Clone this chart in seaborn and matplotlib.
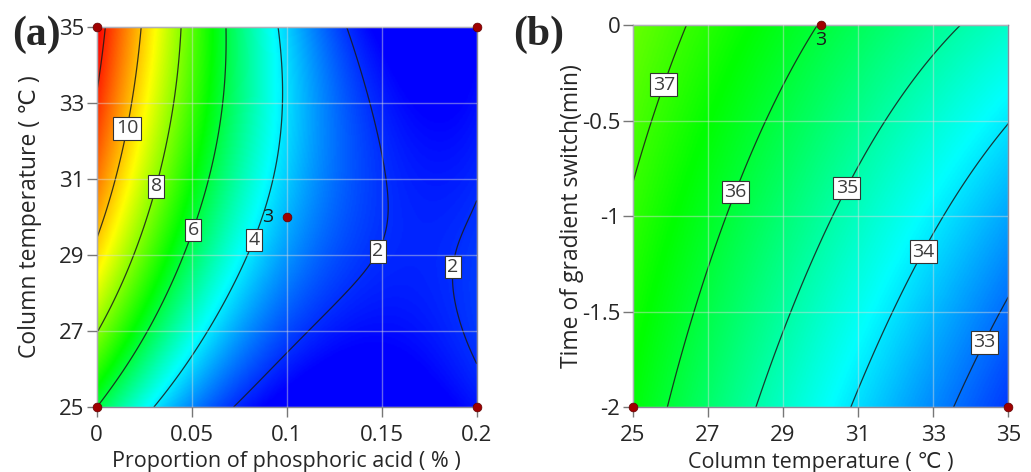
import numpy as np
import matplotlib
matplotlib.use("Agg")
import matplotlib.pyplot as plt
import seaborn as sns
from matplotlib.colors import LinearSegmentedColormap

# ---- readings taken off the response-surface plots -------------------------
# panel (a): phosphoric acid (%) vs column temperature, response value
a_acid = [0.0053, 0.0, 0.0025,
          0.0237, 0.021, 0.0158, 0.007, 0.0,
          0.0439, 0.0412, 0.0307, 0.0175, 0.0,
          0.0675, 0.0667, 0.05, 0.0404, 0.0193, 0.0,
          0.0956, 0.0979, 0.0947, 0.0819, 0.0719, 0.049, 0.0307,
          0.1325, 0.142, 0.1544, 0.1588, 0.15, 0.135, 0.1175, 0.0912, 0.0719,
          0.2, 0.1895, 0.1842, 0.1854, 0.1895, 0.2,
          0.0, 0.1, 0.17, 0.13, 0.172, 0.2, 0.2, 0.2, 0.2, 0.2, 0.19]
a_temp = [35, 33.07, 34.0,
          35, 33.86, 32.33, 30.79, 29.39,
          35, 33.0, 30.81, 28.6, 26.94,
          35, 33.0, 29.67, 28.16, 26.4, 25.0,
          35, 33.0, 31.06, 29.41, 28.16, 26.4, 25.0,
          35, 33.0, 31.06, 30.1, 29.04, 28.16, 27.1, 25.97, 25.0,
          30.62, 30.09, 29.2, 28.69, 27.7, 25.84,
          35, 30, 34.5, 25.4, 29.0, 35, 25, 28.5, 33.5, 32.0, 32.0]
a_resp = [12, 12, 12,
          10, 10, 10, 10, 10,
          8, 8, 8, 8, 8,
          6, 6, 6, 6, 6, 6,
          4, 4, 4, 4, 4, 4, 4,
          2, 2, 2, 2, 2, 2, 2, 2, 2,
          2, 2, 2, 2, 2, 2,
          12.4, 3.3, 1.1, 1.1, 1.7, 1.5, 1.7, 2.1, 1.6, 1.75, 1.7]

# panel (b): column temperature vs time of gradient switch, response value
b_temp = [26.5, 25.71, 25.0,
          29.85, 27.8, 26.79, 25.99,
          33.76, 32.38, 30.77, 29.45, 28.39,
          35.0, 32.74, 31.67, 30.86,
          35.0, 34.14, 33.36,
          25.0, 35.0, 25.0, 35.0]
b_time = [0.0, -0.305, -0.78,
          0.0, -0.9, -1.49, -2.0,
          0.0, -0.305, -0.86, -1.35, -2.0,
          -0.575, -1.187, -1.53, -2.0,
          -1.42, -1.64, -2.0,
          0.0, 0.0, -2.0, -2.0]
b_resp = [37, 37, 37,
          36, 36, 36, 36,
          35, 35, 35, 35, 35,
          34, 34, 34, 34,
          33, 33, 33,
          37.45, 34.65, 36.35, 32.6]

# design points
a_design_acid = [0, 0.2, 0, 0.2, 0.1]
a_design_temp = [35, 35, 25, 25, 30]
b_design_temp = [25, 35, 30]
b_design_time = [-2, -2, 0]

a_levels = [2, 4, 6, 8, 10, 12]
a_labelled = [2, 4, 6, 8, 10]
b_levels = [33, 34, 35, 36, 37]

a_label_pos = [(0.0158, 32.33), (0.0307, 30.81), (0.05, 29.67),
               (0.0819, 29.41), (0.15, 29.04), (0.1854, 28.69)]
b_label_pos = [(25.71, -0.305), (27.75, -0.876), (30.77, -0.86),
               (32.74, -1.187), (34.14, -1.64)]


def fit_surface(xs, ys, zs, xlim, ylim, deg_x, deg_y, n=300):
    # polynomial response surface fitted to the readings (coded units)
    xs, ys, zs = map(np.asarray, (xs, ys, zs))
    cx, hx = (xlim[0] + xlim[1]) / 2, (xlim[1] - xlim[0]) / 2
    cy, hy = (ylim[0] + ylim[1]) / 2, (ylim[1] - ylim[0]) / 2
    terms = [(i, j) for i in range(deg_x + 1) for j in range(deg_y + 1)]
    u, v = (xs - cx) / hx, (ys - cy) / hy
    A = np.column_stack([u**i * v**j for i, j in terms])
    coef = np.linalg.lstsq(A, zs, rcond=None)[0]
    gx = np.linspace(xlim[0], xlim[1], n)
    gy = np.linspace(ylim[0], ylim[1], n)
    X, Y = np.meshgrid(gx, gy)
    U, V = (X - cx) / hx, (Y - cy) / hy
    Z = sum(c * U**i * V**j for c, (i, j) in zip(coef, terms))
    return X, Y, Z


def make_cmap(stops):
    colors = ["#0000ff", "#00ffff", "#00ff00", "#ffff00", "#ff0000"]
    lo, hi = stops[0], stops[-1]
    return LinearSegmentedColormap.from_list(
        "de", [((s - lo) / (hi - lo), c) for s, c in zip(stops, colors)]), lo, hi


sns.set_theme(style="white")
plt.rcParams["font.family"] = ["Open Sans", "DejaVu Sans"]

fig = plt.figure(figsize=(10.31, 4.72), dpi=100)
ax1 = fig.add_axes([0.0938, 0.1377, 0.3686, 0.8057])
ax2 = fig.add_axes([0.6137, 0.1377, 0.3643, 0.8093])

panels = [
    (ax1, a_acid, a_temp, a_resp, (0, 0.2), (25, 35), 4, 3,
     [1.5, 4.2, 6.6, 9.3, 12.5], a_levels, a_labelled, a_label_pos,
     a_design_acid, a_design_temp),
    (ax2, b_temp, b_time, b_resp, (25, 35), (-2, 0), 2, 2,
     [32.0, 34.2, 36.5, 38.8, 41.0], b_levels, b_levels, b_label_pos,
     b_design_temp, b_design_time),
]

for (ax, xs, ys, zs, xlim, ylim, dx, dy, stops, levels, labelled, lpos,
     dsx, dsy) in panels:
    X, Y, Z = fit_surface(xs, ys, zs, xlim, ylim, dx, dy)
    cmap, lo, hi = make_cmap(stops)
    ax.imshow(Z, extent=[xlim[0], xlim[1], ylim[0], ylim[1]], origin="lower",
              aspect="auto", cmap=cmap, vmin=lo, vmax=hi, interpolation="bilinear")
    cs = ax.contour(X, Y, Z, levels=levels, colors="#1a1a1a", linewidths=0.9,
                    alpha=0.85)
    texts = ax.clabel(cs, levels=labelled, inline=False, fmt="%d",
                      fontsize=14, manual=lpos, colors="#1a1a1a")
    for t in texts:
        t.set_rotation(0)
        t.set_bbox(dict(boxstyle="square,pad=0.12", fc="white", ec="#333333",
                        lw=0.8))
    sns.scatterplot(x=dsx, y=dsy, ax=ax, color="#a00000", s=40,
                    edgecolor="#600000", linewidth=0.5, zorder=5, clip_on=False)
    ax.set_xlim(*xlim)
    ax.set_ylim(*ylim)
    ax.grid(True, color="#dddddd", alpha=0.45, lw=1.0)
    ax.set_axisbelow(False)
    for s in ax.spines.values():
        s.set_color("#8a8a9a")
        s.set_linewidth(1.0)
    ax.tick_params(axis="both", which="both", direction="out", length=7,
                   width=1, color="#777777", labelsize=16,
                   bottom=True, left=True)
    ax.tick_params(axis="x", pad=6)
    ax.tick_params(axis="y", pad=2)

ax1.set_xticks([0, 0.05, 0.1, 0.15, 0.2])
ax1.set_xticklabels(["0", "0.05", "0.1", "0.15", "0.2"])
ax1.set_yticks([25, 27, 29, 31, 33, 35])
ax1.set_xlabel("Proportion of phosphoric acid ( % )", fontsize=15.5)
ax1.xaxis.set_label_coords(0.5, -0.117)
ax1.set_ylabel("Column temperature ( ℃ )", fontsize=16.5)
ax1.yaxis.set_label_coords(-0.145, 0.5)
ax1.text(0.093, 30, "3", ha="right", va="center", fontsize=14, color="#1a1a1a")

ax2.set_xticks([25, 27, 29, 31, 33, 35])
ax2.set_yticks([-2, -1.5, -1, -0.5, 0])
ax2.set_yticklabels(["-2", "-1.5", "-1", "-0.5", "0"])
ax2.set_xlabel("Column temperature ( ℃ )", fontsize=15.5)
ax2.xaxis.set_label_coords(0.5, -0.117)
ax2.set_ylabel("Time of gradient switch(min)", fontsize=16.5)
ax2.yaxis.set_label_coords(-0.13, 0.5)
ax2.text(30, -0.03, "3", ha="center", va="top", fontsize=14, color="#1a1a1a")

fig.text(0.0116, 0.926, "(a)", fontsize=30, fontweight="bold",
         family="Liberation Serif", va="center")
fig.text(0.4976, 0.926, "(b)", fontsize=30, fontweight="bold",
         family="Liberation Serif", va="center")

fig.savefig("out.png", dpi=100)
